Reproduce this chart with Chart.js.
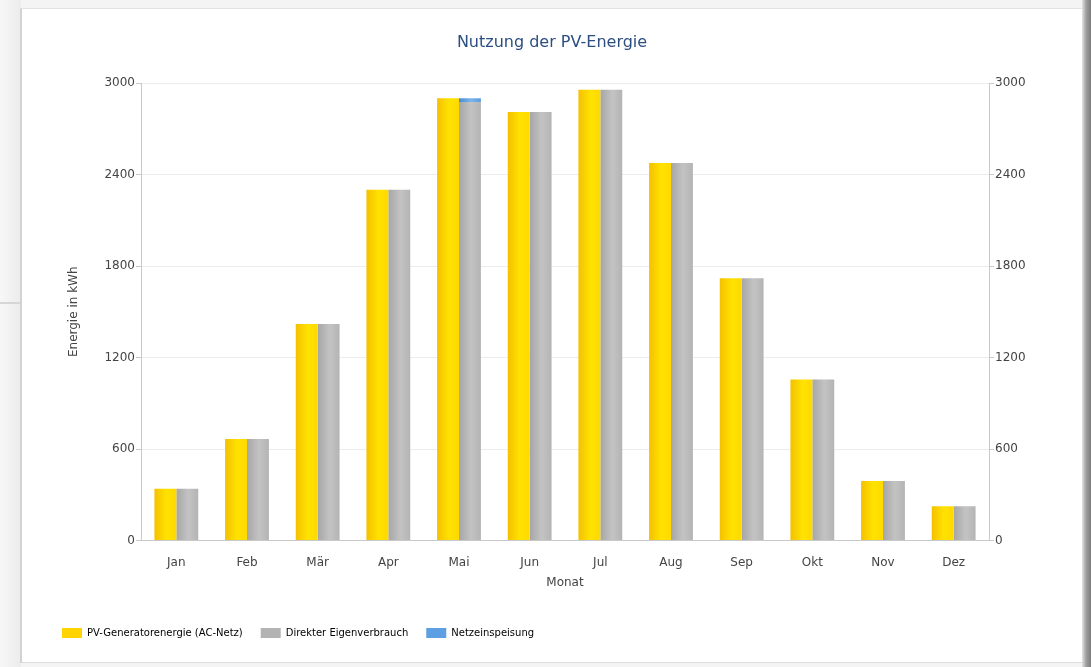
<!DOCTYPE html>
<html lang="de">
<head>
<meta charset="utf-8">
<title>Nutzung der PV-Energie</title>
<script src="https://cdn.jsdelivr.net/npm/chart.js@4/dist/chart.umd.min.js"></script>
<style>
  html, body { margin: 0; padding: 0; }
  body { width: 1091px; height: 667px; background: #f4f4f4; position: relative; overflow: hidden; }
  #leftStrip { position: absolute; left: 0; top: 0; width: 21px; height: 667px; background: linear-gradient(to right, #f7f7f7, #ececec); }
  #leftStrip .rule { position: absolute; left: 0; top: 302px; width: 20px; height: 2px; background: #d6d6d6; }
  #card { position: absolute; left: 20px; top: 8px; width: 1060px; height: 653px; background: #fff;
          border-left: 2px solid #d2d2d2; border-top: 1px solid #e2e2e2; border-bottom: 1px solid #dcdcdc; border-right: 1px solid #dcdcdc; }
  #shade { position: absolute; left: 1082px; top: 0; width: 9px; height: 667px; background: linear-gradient(to right, #e4e4e4, #a0a0a0 45%, #7c7c7c); }
  #wrap { position: absolute; left: 0; top: 0; width: 1091px; height: 667px; }
</style>
</head>
<body>
<div id="leftStrip"><div class="rule"></div></div>
<div id="card"></div>
<div id="shade"></div>
<div id="wrap"><canvas id="chart" width="1091" height="667"></canvas></div>
<script>
// Monthly PV energy use in kWh
const months = ['Jan', 'Feb', 'Mär', 'Apr', 'Mai', 'Jun', 'Jul', 'Aug', 'Sep', 'Okt', 'Nov', 'Dez'];
const generatorEnergy = [340, 665, 1420, 2300, 2900, 2810, 2955, 2475, 1720, 1055, 390, 225];
const selfConsumption = [340, 665, 1420, 2300, 2875, 2810, 2955, 2475, 1720, 1055, 390, 225];
const gridFeedIn      = [0, 0, 0, 0, 25, 0, 0, 0, 0, 0, 0, 0];
const yTicks = [0, 600, 1200, 1800, 2400, 3000];

const seriesNames = ['PV-Generatorenergie (AC-Netz)', 'Direkter Eigenverbrauch', 'Netzeinspeisung'];

const CAT_PCT = 0.62;
const FONT = "'DejaVu Sans', Verdana, sans-serif";

// Horizontal shading across each bar: darker left edge, light centre, softer right edge
function shaded(stops, flat, slot) {
  return (ctx) => {
    if (ctx.type !== 'data') return flat;
    const chart = ctx.chart;
    const xs = chart.scales.x;
    if (!xs || !chart.chartArea) return flat;
    const center = xs.getPixelForValue(ctx.dataIndex);
    const bw = xs.width / months.length * CAT_PCT / 2;
    const left = slot === 0 ? center - bw : center;
    if (!isFinite(left)) return flat;
    const g = chart.ctx.createLinearGradient(left, 0, left + bw, 0);
    g.addColorStop(0, stops[0]);
    g.addColorStop(0.55, stops[1]);
    g.addColorStop(1, stops[2]);
    return g;
  };
}

const yellow = ['#f4c000', '#ffe200', '#ffd900'];
const grey = ['#a6a6a6', '#c3c3c3', '#b4b4b4'];
const blue = ['#4a8bd6', '#7cb4ec', '#5c9de0'];

const plainNumber = (v) => String(v);

Chart.defaults.font.family = FONT;
Chart.defaults.color = '#444';

new Chart(document.getElementById('chart'), {
  type: 'bar',
  data: {
    labels: months,
    datasets: [
      { label: seriesNames[0], data: generatorEnergy, stack: 'erzeugung',
        backgroundColor: shaded(yellow, '#ffd400', 0), borderWidth: 0 },
      { label: seriesNames[1], data: selfConsumption, stack: 'nutzung',
        backgroundColor: shaded(grey, '#b3b3b3', 1), borderWidth: 0 },
      { label: seriesNames[2], data: gridFeedIn, stack: 'nutzung',
        backgroundColor: shaded(blue, '#5d9fe2', 1), borderWidth: 0 }
    ]
  },
  options: {
    responsive: false,
    animation: false,
    events: [],
    barPercentage: 1,
    categoryPercentage: CAT_PCT,
    layout: { padding: { left: 44, right: 31, top: 0, bottom: 19 } },
    plugins: {
      title: {
        display: true,
        text: 'Nutzung der PV-Energie',
        color: '#2c4f80',
        font: { size: 16, weight: 'normal', family: FONT },
        padding: { top: 33, bottom: 30.8 }
      },
      legend: {
        position: 'bottom',
        align: 'start',
        labels: {
          boxWidth: 20,
          boxHeight: 10,
          padding: 18,
          color: '#444',
          font: { size: 10, family: FONT },
          generateLabels: (chart) => {
            const flats = ['#ffd400', '#b3b3b3', '#5d9fe2'];
            return chart.data.datasets.map((ds, i) => ({
              text: ds.label, fillStyle: flats[i], strokeStyle: flats[i],
              lineWidth: 0, hidden: false, datasetIndex: i
            }));
          }
        }
      },
      tooltip: { enabled: false }
    },
    scales: {
      x: {
        stacked: true,
        grid: { display: false },
        border: { display: true, color: '#c9c9c9', width: 1 },
        ticks: { padding: 7, color: '#444', font: { size: 12 } },
        title: { display: true, text: 'Monat', color: '#444', font: { size: 12 }, padding: { top: 0, bottom: 20 } },
        afterFit: (s) => { s.height = 69.5; }
      },
      y: {
        stacked: true,
        position: 'left',
        min: 0, max: 3000,
        afterBuildTicks: (s) => { s.ticks = yTicks.map(v => ({ value: v })); },
        grid: { color: '#ececec', tickColor: '#c9c9c9', tickLength: 5, drawTicks: true },
        border: { display: true, color: '#c9c9c9', width: 1 },
        ticks: { padding: 1, color: '#444', font: { size: 12 }, callback: plainNumber },
        title: { display: true, text: 'Energie in kWh', color: '#444', font: { size: 12 }, padding: { top: 22.5, bottom: 0 } },
        afterFit: (s) => { s.width = 97; }
      },
      y2: {
        position: 'right',
        min: 0, max: 3000,
        afterBuildTicks: (s) => { s.ticks = yTicks.map(v => ({ value: v })); },
        grid: { drawOnChartArea: false, color: '#c9c9c9', tickColor: '#c9c9c9', tickLength: 5 },
        border: { display: true, color: '#c9c9c9', width: 1 },
        ticks: { padding: 1, color: '#444', font: { size: 12 }, callback: plainNumber },
        afterFit: (s) => { s.width = 71; }
      }
    }
  }
});
</script>
</body>
</html>
